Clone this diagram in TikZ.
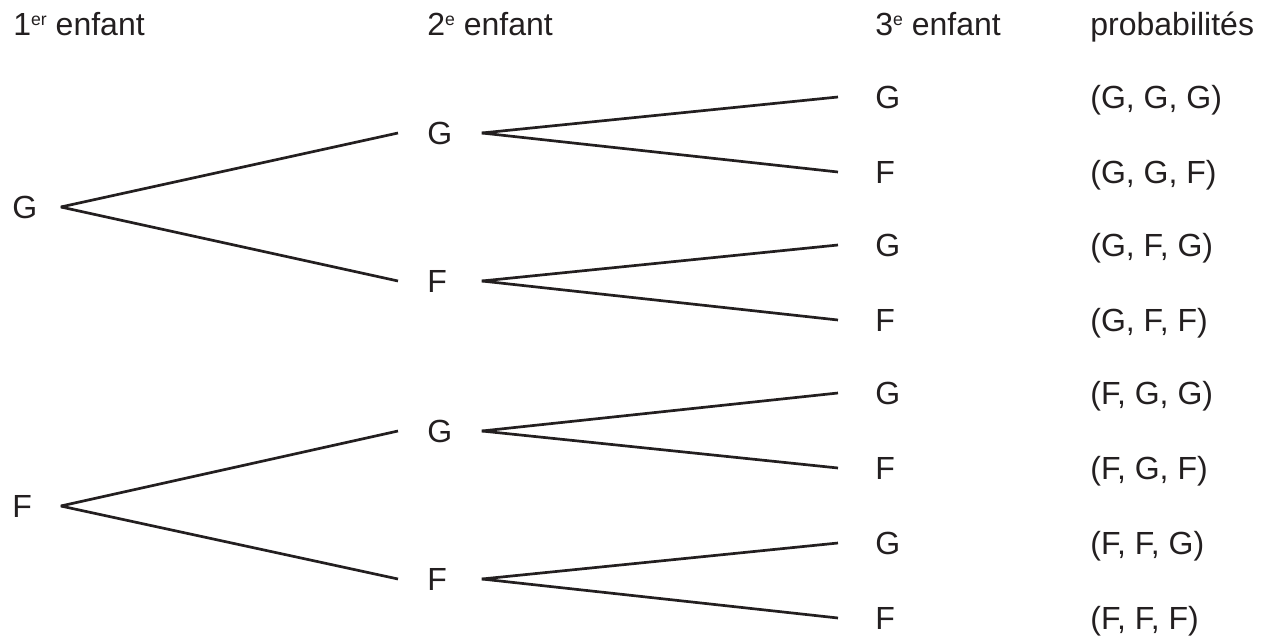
\documentclass[tikz,border=0pt]{standalone}
\usepackage{fontspec}
\setmainfont{Liberation Sans}
\definecolor{ink}{HTML}{231F20}
\newcommand{\expo}[1]{\raisebox{5pt}{\fontsize{8.8}{9}\selectfont #1}}
\begin{document}
\begin{tikzpicture}[x=0.5pt,y=-0.5pt,
  every node/.style={text=ink, font=\fontsize{16}{19}\selectfont},
  lab/.style={inner ysep=0pt, text width=12.5pt, align=left, anchor=west},
  lone/.style={lab, inner xsep=11.5pt},
  ltwo/.style={lab, inner xsep=14.5pt},
  lthree/.style={lab, inner xsep=18.5pt},
  head/.style={anchor=base west, inner sep=0pt},
  prob/.style={anchor=base west, inner sep=0pt},
  branch/.style={draw=ink, line width=1.35pt}]
\useasboundingbox (0,0) rectangle (1262,636);
% headers
\node[head] (h1) at (13,36) {1\expo{er} enfant};
\node[head] (h2) at (427,36) {2\expo{e} enfant};
\node[head] (h3) at (875,36) {3\expo{e} enfant};
\node[head] (h4) at (1090,36) {probabilités};
% level 1
\node[lone] (a) at (-11,207) {G};
\node[lone] (b) at (-11,506) {F};
% level 2
\node[ltwo] (aa) at (398,133) {G};
\node[ltwo] (ab) at (398,281) {F};
\node[ltwo] (ba) at (398,431) {G};
\node[ltwo] (bb) at (398,579) {F};
% level 3
\node[lthree] (aaa) at (838,97) {G};
\node[lthree] (aab) at (838,172) {F};
\node[lthree] (aba) at (838,245) {G};
\node[lthree] (abb) at (838,320) {F};
\node[lthree] (baa) at (838,393) {G};
\node[lthree] (bab) at (838,468) {F};
\node[lthree] (bba) at (838,543) {G};
\node[lthree] (bbb) at (838,618) {F};
% probabilities
\node[prob] (p1) at (1090,108.5) {(G, G, G)};
\node[prob] (p2) at (1090,183.5) {(G, G, F)};
\node[prob] (p3) at (1090,256.5) {(G, F, G)};
\node[prob] (p4) at (1090,331.5) {(G, F, F)};
\node[prob] (p5) at (1090,404.5) {(F, G, G)};
\node[prob] (p6) at (1090,479.5) {(F, G, F)};
\node[prob] (p7) at (1090,554.5) {(F, F, G)};
\node[prob] (p8) at (1090,629.5) {(F, F, F)};
% branches
\draw[branch] (a.east) -- (aa.west);
\draw[branch] (a.east) -- (ab.west);
\draw[branch] (b.east) -- (ba.west);
\draw[branch] (b.east) -- (bb.west);
\draw[branch] (aa.east) -- (aaa.west);
\draw[branch] (aa.east) -- (aab.west);
\draw[branch] (ab.east) -- (aba.west);
\draw[branch] (ab.east) -- (abb.west);
\draw[branch] (ba.east) -- (baa.west);
\draw[branch] (ba.east) -- (bab.west);
\draw[branch] (bb.east) -- (bba.west);
\draw[branch] (bb.east) -- (bbb.west);
\end{tikzpicture}
\end{document}
